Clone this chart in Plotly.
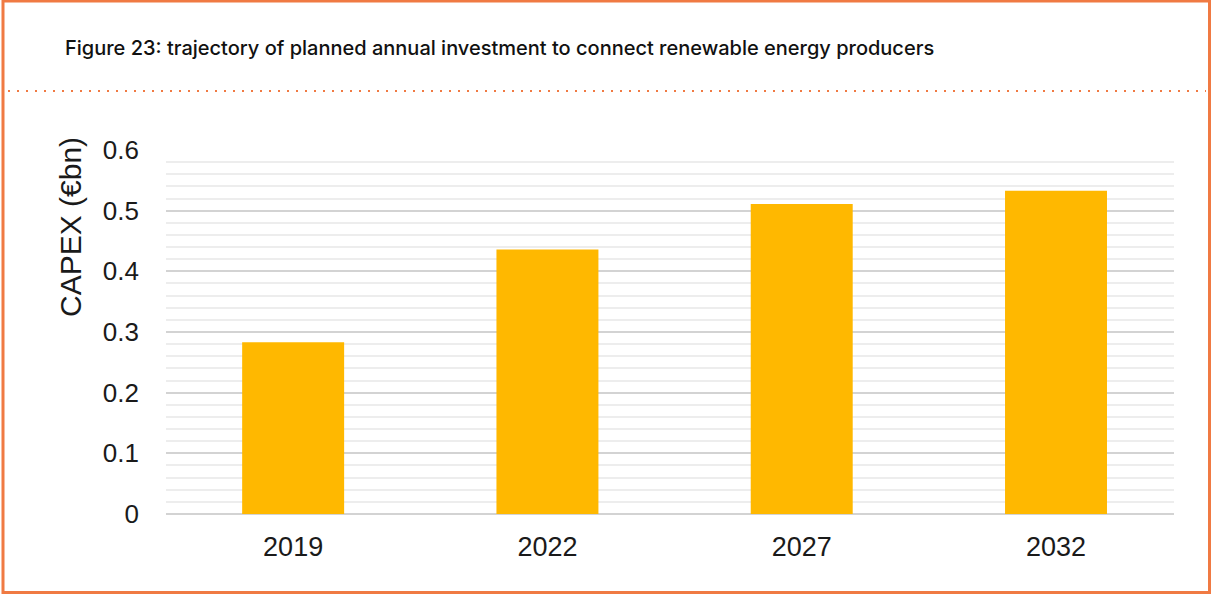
import plotly.graph_objects as go

years = ["2019", "2022", "2027", "2032"]
capex_bn = [0.283, 0.436, 0.511, 0.533]
y_ticks = [0, 0.1, 0.2, 0.3, 0.4, 0.5, 0.6]
y_tick_labels = ["0", "0.1", "0.2", "0.3", "0.4", "0.5", "0.6"]

W, H = 1212, 596
ML, MR, MT, MB = 166, 38, 150, 82
PW, PH = W - ML - MR, H - MT - MB

def px_x(p):
    return (p - ML) / PW

def px_y(p):
    return (H - MB - p) / PH

ORANGE = "#F07A43"
TEXT = "#1a1a1a"

fig = go.Figure()
fig.add_trace(go.Bar(
    x=years, y=capex_bn, marker=dict(color="#FFB800", line=dict(width=0)),
    width=0.401, hoverinfo="x+y",
))

shapes = [
    # frame around the figure
    dict(type="rect", xref="paper", yref="paper",
         x0=px_x(3), x1=px_x(1209.5), y0=px_y(592.5), y1=px_y(1),
         line=dict(color=ORANGE, width=3), layer="above"),
    # dotted separator under the heading
    dict(type="line", xref="paper", yref="paper",
         x0=px_x(8), x1=px_x(1206), y0=px_y(91), y1=px_y(91),
         line=dict(color=ORANGE, width=2, dash="2px,7px")),
]

fig.update_layout(
    width=W, height=H,
    margin=dict(l=ML, r=MR, t=MT, b=MB),
    paper_bgcolor="white", plot_bgcolor="white",
    showlegend=False,
    shapes=shapes,
    annotations=[
        dict(text="Figure 23: trajectory of planned annual investment to connect renewable energy producers",
             xref="paper", yref="paper", x=px_x(63), y=px_y(48),
             xanchor="left", yanchor="middle", showarrow=False,
             font=dict(family="Inter", size=20, color="#111111", weight=500)),
        dict(text="CAPEX (€bn)", textangle=-90,
             xref="paper", yref="paper", x=px_x(70), y=px_y(227),
             xanchor="center", yanchor="middle", showarrow=False,
             font=dict(family="Liberation Sans", size=30, color=TEXT)),
    ],
    xaxis=dict(
        type="category", range=[-0.5, 3.464],
        showgrid=False, showline=False, zeroline=False, ticks="",
        tickfont=dict(family="Liberation Sans", size=27, color=TEXT),
        ticklabelstandoff=14,
    ),
    yaxis=dict(
        range=[0, 0.6], tickvals=y_ticks, ticktext=y_tick_labels,
        showgrid=True, gridcolor="#d3d3d3", gridwidth=2,
        minor=dict(dtick=0.02, showgrid=True, gridcolor="#ededed", gridwidth=2),
        zeroline=True, zerolinecolor="#d3d3d3", zerolinewidth=2,
        showline=False, ticks="",
        tickfont=dict(family="Liberation Sans", size=26, color=TEXT),
        ticklabelstandoff=26,
    ),
)

fig.write_html("out.html")
